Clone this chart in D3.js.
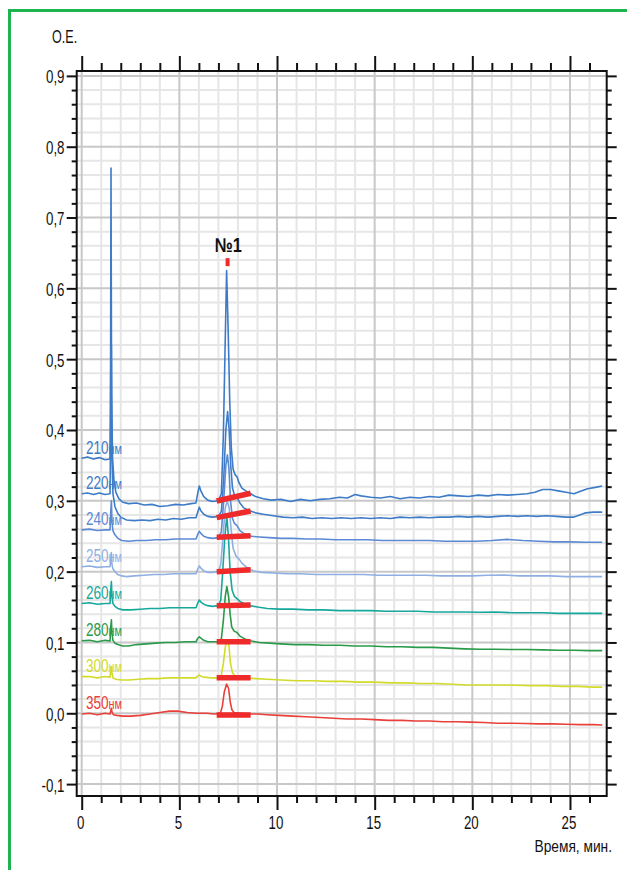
<!DOCTYPE html>
<html>
<head>
<meta charset="utf-8">
<script src="https://cdn.jsdelivr.net/npm/d3@7"></script>
<style>
  html, body { margin: 0; padding: 0; background: #fff; }
  svg { display: block; }
</style>
</head>
<body>
<svg id="chart" width="627" height="870"></svg>
<script>
// ---- Chromatogram traces: [time, min ; absorbance, O.E.] ----
const trace210 = [[0,0.360],[0.3,0.362],[0.6,0.359],[0.9,0.361],[1.2,0.358],[1.45,0.359],[1.48,0.5],[1.5,0.77],[1.53,0.45],[1.58,0.36],[1.65,0.33],[1.75,0.312],[1.9,0.303],[2.1,0.298],[2.4,0.296],[2.8,0.297],[3.2,0.294],[3.6,0.295],[4.0,0.292],[4.4,0.293],[4.8,0.295],[5.2,0.294],[5.6,0.296],[5.85,0.297],[5.95,0.312],[6.02,0.321],[6.1,0.314],[6.25,0.306],[6.45,0.301],[6.7,0.299],[7.0,0.300],[7.15,0.31],[7.25,0.39],[7.33,0.5],[7.42,0.625],[7.5,0.54],[7.58,0.44],[7.66,0.375],[7.75,0.345],[7.85,0.337],[7.95,0.334],[8.05,0.326],[8.2,0.318],[8.4,0.314],[8.6,0.311],[8.9,0.306],[9.3,0.303],[9.7,0.301],[10.2,0.302],[10.7,0.299],[11.2,0.302],[11.7,0.300],[12.2,0.302],[12.7,0.303],[13.2,0.305],[13.6,0.304],[14.0,0.309],[14.3,0.307],[14.8,0.305],[15.3,0.304],[15.8,0.306],[16.3,0.303],[16.8,0.305],[17.3,0.304],[17.8,0.306],[18.3,0.305],[18.8,0.308],[19.3,0.307],[19.8,0.306],[20.3,0.308],[20.8,0.307],[21.3,0.309],[21.8,0.308],[22.3,0.309],[22.8,0.310],[23.2,0.312],[23.6,0.316],[24.0,0.316],[24.4,0.314],[24.8,0.312],[25.2,0.310],[25.5,0.313],[25.9,0.317],[26.3,0.319],[26.65,0.321]];

const trace220 = [[0,0.310],[0.3,0.311],[0.6,0.309],[0.9,0.311],[1.2,0.309],[1.45,0.310],[1.49,0.42],[1.52,0.52],[1.55,0.36],[1.6,0.31],[1.7,0.292],[1.85,0.282],[2.0,0.277],[2.3,0.273],[2.7,0.272],[3.1,0.273],[3.5,0.272],[3.9,0.274],[4.3,0.273],[4.7,0.275],[5.1,0.274],[5.5,0.276],[5.85,0.276],[5.95,0.285],[6.02,0.291],[6.1,0.286],[6.25,0.281],[6.45,0.278],[6.7,0.277],[7.0,0.278],[7.15,0.285],[7.27,0.33],[7.38,0.40],[7.47,0.426],[7.55,0.40],[7.63,0.35],[7.72,0.318],[7.82,0.308],[7.95,0.305],[8.1,0.297],[8.3,0.29],[8.6,0.286],[8.9,0.283],[9.3,0.281],[9.8,0.279],[10.3,0.277],[10.8,0.276],[11.3,0.277],[11.8,0.275],[12.3,0.276],[12.8,0.275],[13.3,0.276],[13.8,0.275],[14.3,0.276],[14.8,0.275],[15.3,0.276],[15.8,0.275],[16.3,0.277],[16.8,0.276],[17.3,0.277],[17.8,0.276],[18.3,0.277],[18.8,0.277],[19.3,0.278],[19.8,0.277],[20.3,0.278],[20.8,0.277],[21.3,0.278],[21.8,0.279],[22.3,0.278],[22.8,0.279],[23.3,0.278],[23.8,0.279],[24.3,0.278],[24.8,0.277],[25.2,0.277],[25.5,0.280],[25.8,0.283],[26.2,0.284],[26.65,0.284]];

const trace240 = [[0,0.259],[0.4,0.260],[0.8,0.258],[1.2,0.259],[1.45,0.259],[1.49,0.285],[1.52,0.30],[1.55,0.27],[1.6,0.258],[1.7,0.252],[1.85,0.247],[2.05,0.244],[2.4,0.243],[2.8,0.244],[3.3,0.244],[3.8,0.245],[4.3,0.245],[4.8,0.246],[5.3,0.246],[5.85,0.246],[5.95,0.253],[6.02,0.257],[6.1,0.254],[6.25,0.25],[6.45,0.248],[6.7,0.247],[7.0,0.248],[7.15,0.256],[7.27,0.30],[7.38,0.35],[7.46,0.365],[7.54,0.345],[7.62,0.30],[7.72,0.275],[7.82,0.268],[7.95,0.265],[8.1,0.258],[8.35,0.253],[8.7,0.25],[9.1,0.249],[9.6,0.248],[10.2,0.247],[10.8,0.247],[11.5,0.246],[12.2,0.246],[13,0.245],[13.8,0.245],[14.6,0.245],[15.4,0.244],[16.2,0.244],[17,0.244],[17.8,0.244],[18.6,0.243],[19.4,0.243],[20.2,0.243],[21,0.244],[21.8,0.2455],[22.6,0.244],[23.4,0.243],[24.2,0.242],[25,0.242],[25.8,0.2415],[26.65,0.2415]];

const trace250 = [[0,0.207],[0.4,0.208],[0.8,0.206],[1.2,0.207],[1.45,0.207],[1.49,0.22],[1.52,0.227],[1.55,0.21],[1.6,0.204],[1.7,0.2],[1.85,0.196],[2.05,0.194],[2.3,0.193],[2.7,0.194],[3.2,0.195],[3.7,0.196],[4.2,0.196],[4.7,0.197],[5.2,0.197],[5.85,0.197],[5.95,0.204],[6.02,0.208],[6.1,0.205],[6.25,0.201],[6.45,0.199],[6.7,0.199],[7.0,0.2],[7.12,0.21],[7.22,0.245],[7.35,0.29],[7.45,0.30],[7.55,0.29],[7.65,0.26],[7.75,0.233],[7.9,0.222],[8.05,0.218],[8.2,0.212],[8.45,0.206],[8.8,0.201],[9.2,0.199],[9.8,0.198],[10.5,0.197],[11.2,0.197],[12,0.196],[12.8,0.196],[13.6,0.196],[14.4,0.196],[15.2,0.195],[16,0.195],[16.8,0.195],[17.6,0.195],[18.4,0.194],[19.2,0.194],[20,0.194],[20.8,0.195],[21.6,0.1953],[22.4,0.194],[23.2,0.194],[24,0.194],[24.8,0.193],[25.6,0.193],[26.65,0.193]];

const trace260 = [[0,0.155],[0.4,0.156],[0.8,0.154],[1.2,0.155],[1.45,0.155],[1.49,0.175],[1.52,0.186],[1.55,0.165],[1.6,0.155],[1.7,0.151],[1.85,0.148],[2.1,0.146],[2.5,0.146],[3.0,0.147],[3.5,0.148],[4.0,0.148],[4.5,0.149],[5.0,0.149],[5.5,0.149],[5.85,0.149],[5.95,0.156],[6.02,0.16],[6.1,0.157],[6.25,0.154],[6.45,0.152],[6.7,0.151],[7.0,0.152],[7.12,0.16],[7.22,0.2],[7.33,0.25],[7.43,0.278],[7.51,0.25],[7.6,0.2],[7.7,0.174],[7.82,0.165],[7.95,0.162],[8.1,0.158],[8.3,0.155],[8.6,0.152],[9.0,0.15],[9.5,0.148],[10.1,0.147],[10.8,0.147],[11.6,0.146],[12.4,0.146],[13.2,0.145],[14,0.145],[14.8,0.145],[15.6,0.144],[16.4,0.144],[17.2,0.144],[18,0.143],[18.8,0.143],[19.6,0.143],[20.4,0.1426],[21.2,0.143],[22,0.142],[22.8,0.142],[23.6,0.142],[24.4,0.141],[25.2,0.141],[26,0.141],[26.65,0.141]];

const trace280 = [[0,0.1025],[0.4,0.103],[0.8,0.101],[1.2,0.103],[1.45,0.102],[1.49,0.122],[1.52,0.132],[1.55,0.113],[1.6,0.103],[1.7,0.099],[1.85,0.097],[2.1,0.095],[2.4,0.095],[2.8,0.097],[3.3,0.098],[3.8,0.099],[4.3,0.1],[4.8,0.1],[5.3,0.101],[5.85,0.101],[5.95,0.106],[6.02,0.108],[6.1,0.106],[6.25,0.103],[6.45,0.101],[6.7,0.101],[7.0,0.101],[7.15,0.105],[7.25,0.13],[7.35,0.165],[7.43,0.179],[7.52,0.165],[7.6,0.14],[7.68,0.122],[7.8,0.116],[7.95,0.114],[8.1,0.109],[8.35,0.105],[8.7,0.102],[9.1,0.1],[9.6,0.099],[10.2,0.098],[10.9,0.097],[11.6,0.097],[12.4,0.096],[13.2,0.096],[14,0.095],[14.8,0.095],[15.6,0.094],[16.4,0.094],[17.2,0.093],[18,0.093],[18.8,0.092],[19.6,0.091],[20.4,0.0904],[21.2,0.0905],[22,0.09],[22.8,0.09],[23.6,0.0895],[24.4,0.089],[25.2,0.089],[26,0.0885],[26.65,0.0885]];

const trace300 = [[0,0.0517],[0.4,0.052],[0.8,0.050],[1.2,0.052],[1.45,0.051],[1.49,0.061],[1.52,0.066],[1.55,0.057],[1.6,0.05],[1.75,0.048],[2.0,0.047],[2.4,0.047],[2.9,0.048],[3.4,0.049],[3.9,0.049],[4.4,0.05],[4.9,0.05],[5.4,0.05],[5.85,0.05],[5.95,0.053],[6.02,0.054],[6.12,0.052],[6.3,0.051],[6.6,0.05],[7.0,0.05],[7.15,0.054],[7.25,0.07],[7.36,0.095],[7.46,0.1035],[7.54,0.095],[7.62,0.07],[7.72,0.057],[7.85,0.053],[8.05,0.052],[8.4,0.05],[8.9,0.049],[9.5,0.048],[10.2,0.047],[11,0.046],[11.8,0.046],[12.6,0.045],[13.4,0.045],[14.2,0.044],[15,0.044],[15.8,0.043],[16.6,0.043],[17.4,0.042],[18.2,0.042],[19,0.041],[19.8,0.040],[20.6,0.040],[21.4,0.040],[22.2,0.0395],[23,0.039],[23.8,0.039],[24.6,0.038],[25.4,0.038],[26.2,0.037],[26.65,0.037]];

const trace350 = [[0,-0.001],[0.4,0.0],[0.8,-0.002],[1.2,0.0],[1.45,-0.001],[1.49,0.004],[1.52,0.007],[1.55,0.002],[1.62,-0.002],[1.8,-0.003],[2.1,-0.004],[2.5,-0.004],[3.0,-0.003],[3.5,-0.001],[4.0,0.001],[4.5,0.003],[4.9,0.003],[5.4,0.001],[5.9,0.0],[6.4,0.0],[6.8,-0.001],[7.1,0.0],[7.2,0.01],[7.3,0.03],[7.42,0.0414],[7.52,0.035],[7.61,0.0155],[7.69,0.005],[7.8,0.001],[8.1,0.0],[8.5,-0.001],[9.0,-0.001],[9.5,-0.002],[10.1,-0.003],[10.8,-0.004],[11.5,-0.005],[12.2,-0.006],[12.9,-0.007],[13.6,-0.008],[14.3,-0.008],[15,-0.009],[15.7,-0.01],[16.4,-0.01],[17.1,-0.011],[17.8,-0.011],[18.5,-0.012],[19.2,-0.012],[19.9,-0.0125],[20.6,-0.013],[21.3,-0.014],[22,-0.014],[22.7,-0.0145],[23.4,-0.015],[24.1,-0.015],[24.8,-0.0155],[25.5,-0.016],[26.2,-0.016],[26.65,-0.0165]];

// Detection wavelengths and trace colours
const wavelengths = ["210", "220", "240", "250", "260", "280", "300", "350"];
const traceColors = ["#3d7bc7", "#3f7cc8", "#5b8ad3", "#8fafe2", "#17a89c", "#2a9a4a", "#d2db2b", "#e8403a"];
const traces = [trace210, trace220, trace240, trace250, trace260, trace280, trace300, trace350];

// Integration window of peak №1 (start / end time, baseline value at each end)
const integrationTimes = [6.91, 8.65];
const integrationStart = [0.2998, 0.2763, 0.2486, 0.2000, 0.1520, 0.1010, 0.0503, -0.0024];
const integrationEnd   = [0.3107, 0.2857, 0.2508, 0.2028, 0.1530, 0.1010, 0.0503, -0.0024];

// Peak label
const peakName = "№1";
const peakTime = 7.47;
const peakMarkValue = 0.637;

// Axis ticks and texts
const xMajorTicks = [0, 5, 10, 15, 20, 25];
const xMinorTicks = d3.range(0, 27, 1);
const yMajorTicks = [-0.1, 0, 0.1, 0.2, 0.3, 0.4, 0.5, 0.6, 0.7, 0.8, 0.9];
const yMinorTicks = d3.range(-5, 46, 1).map(i => i / 50);
const yLabel = "O.E.";
const xLabel = "Время, мин.";
const unitLabel = "нм";

// ---- Layout ----
const svg = d3.select("#chart");
const x = d3.scaleLinear().domain([-0.256, 26.88]).range([76.7, 606.7]);
const y = d3.scaleLinear().domain([-0.1168, 0.9069]).range([796, 71]);
const [L, R] = x.range();
const [B, T] = y.range();
const FONT = "'Liberation Sans', Arial, sans-serif";

// Outer green frame
svg.append("rect")
  .attr("x", 9.5).attr("y", 10.5).attr("width", 700).attr("height", 900)
  .attr("fill", "none").attr("stroke", "#1db34f").attr("stroke-width", 3);

// Grid: minor first, then the darker major lines
const grid = svg.append("g");
const isMajorX = t => t % 5 === 0;
const isMajorY = v => Math.abs(Math.round(v * 10) - v * 10) < 1e-6;
function gridLines(major) {
  grid.selectAll(null).data(xMinorTicks.filter(t => isMajorX(t) === major)).join("line")
    .attr("x1", d => x(d)).attr("x2", d => x(d)).attr("y1", T).attr("y2", B)
    .attr("stroke", major ? "#c8c8c8" : "#e6e6e6").attr("stroke-width", 2);
  grid.selectAll(null).data(yMinorTicks.filter(v => isMajorY(v) === major)).join("line")
    .attr("x1", L).attr("x2", R).attr("y1", d => y(d)).attr("y2", d => y(d))
    .attr("stroke", major ? "#c8c8c8" : "#e6e6e6").attr("stroke-width", 2);
}
gridLines(false);
gridLines(true);

// Traces
const line = d3.line().x(d => x(d[0])).y(d => y(d[1]));
svg.append("g").selectAll("path").data(traces).join("path")
  .attr("d", line)
  .attr("fill", "none")
  .attr("stroke", (d, i) => traceColors[i])
  .attr("stroke-width", 1.6)
  .attr("stroke-linejoin", "round");

// Integration baselines of peak №1
svg.append("g").selectAll("line").data(wavelengths).join("line")
  .attr("x1", x(integrationTimes[0])).attr("x2", x(integrationTimes[1]))
  .attr("y1", (d, i) => y(integrationStart[i]))
  .attr("y2", (d, i) => y(integrationEnd[i]))
  .attr("stroke", "#ee2a2a").attr("stroke-width", 5.5);

// Peak marker and name
svg.append("rect")
  .attr("x", x(peakTime) - 2).attr("y", y(peakMarkValue) - 4)
  .attr("width", 4).attr("height", 8).attr("fill", "#ee2a2a");

function condensedText(parent, px, py, txt, size, sx, anchor, weight) {
  return parent.append("text")
    .attr("transform", `translate(${px},${py}) scale(${sx},1)`)
    .attr("text-anchor", anchor)
    .attr("font-family", FONT)
    .attr("font-size", size)
    .attr("font-weight", weight || "normal")
    .attr("fill", "#111")
    .text(txt);
}
condensedText(svg, x(peakTime) + 0.5, 252, peakName, 20, 0.82, "middle", "bold");

// Wavelength labels at the start of each trace
const labels = svg.append("g");
wavelengths.forEach((w, i) => {
  const t = labels.append("text")
    .attr("x", 86).attr("y", y(traces[i][0][1]) - 4.5)
    .attr("font-family", FONT).attr("font-size", 17.5)
    .attr("textLength", 36).attr("lengthAdjust", "spacingAndGlyphs")
    .attr("fill", traceColors[i]);
  t.append("tspan").text(w);
  t.append("tspan").attr("font-size", 14).text(unitLabel);
});

// Axes: ticks on all four sides of the plot box
function tickAxis(axisFn, scale, values, size, pos) {
  const a = axisFn(scale).tickValues(values).tickSize(size).tickSizeOuter(0).tickFormat("");
  const g = svg.append("g").attr("transform", pos).call(a);
  g.select(".domain").remove();
  g.selectAll(".tick line").attr("stroke", "#111").attr("stroke-width", 2);
  return g;
}
tickAxis(d3.axisBottom, x, xMinorTicks.filter(t => !isMajorX(t)), 7, `translate(0,${B})`);
tickAxis(d3.axisBottom, x, xMajorTicks, 14, `translate(0,${B})`);
tickAxis(d3.axisTop, x, xMinorTicks.filter(t => !isMajorX(t)), 8, `translate(0,${T})`);
tickAxis(d3.axisTop, x, xMajorTicks, 15, `translate(0,${T})`);
tickAxis(d3.axisLeft, y, yMinorTicks.filter(v => !isMajorY(v)), 5, `translate(${L},0)`);
tickAxis(d3.axisLeft, y, yMajorTicks, 10, `translate(${L},0)`);
tickAxis(d3.axisRight, y, yMinorTicks.filter(v => !isMajorY(v)), 5, `translate(${R},0)`);
tickAxis(d3.axisRight, y, yMajorTicks, 10, `translate(${R},0)`);

// Plot box
svg.append("rect")
  .attr("x", L).attr("y", T).attr("width", R - L).attr("height", B - T)
  .attr("fill", "none").attr("stroke", "#111").attr("stroke-width", 2);

// Tick labels
const fmtY = d3.formatLocale({ decimal: ",", thousands: " ", grouping: [3], currency: ["", ""], minus: "-" }).format(".1f");
const tl = svg.append("g");
yMajorTicks.forEach(v => condensedText(tl, 64.5, y(v) + 7.5, fmtY(v), 19, 0.7, "end"));
xMajorTicks.forEach(t => condensedText(tl, x(t) - 1, 829, String(t), 19, 0.7, "middle"));

// Axis titles
condensedText(svg, 52, 43, yLabel, 18.5, 0.68, "start");
condensedText(svg, 612, 852, xLabel, 16, 0.86, "end");
</script>
</body>
</html>
